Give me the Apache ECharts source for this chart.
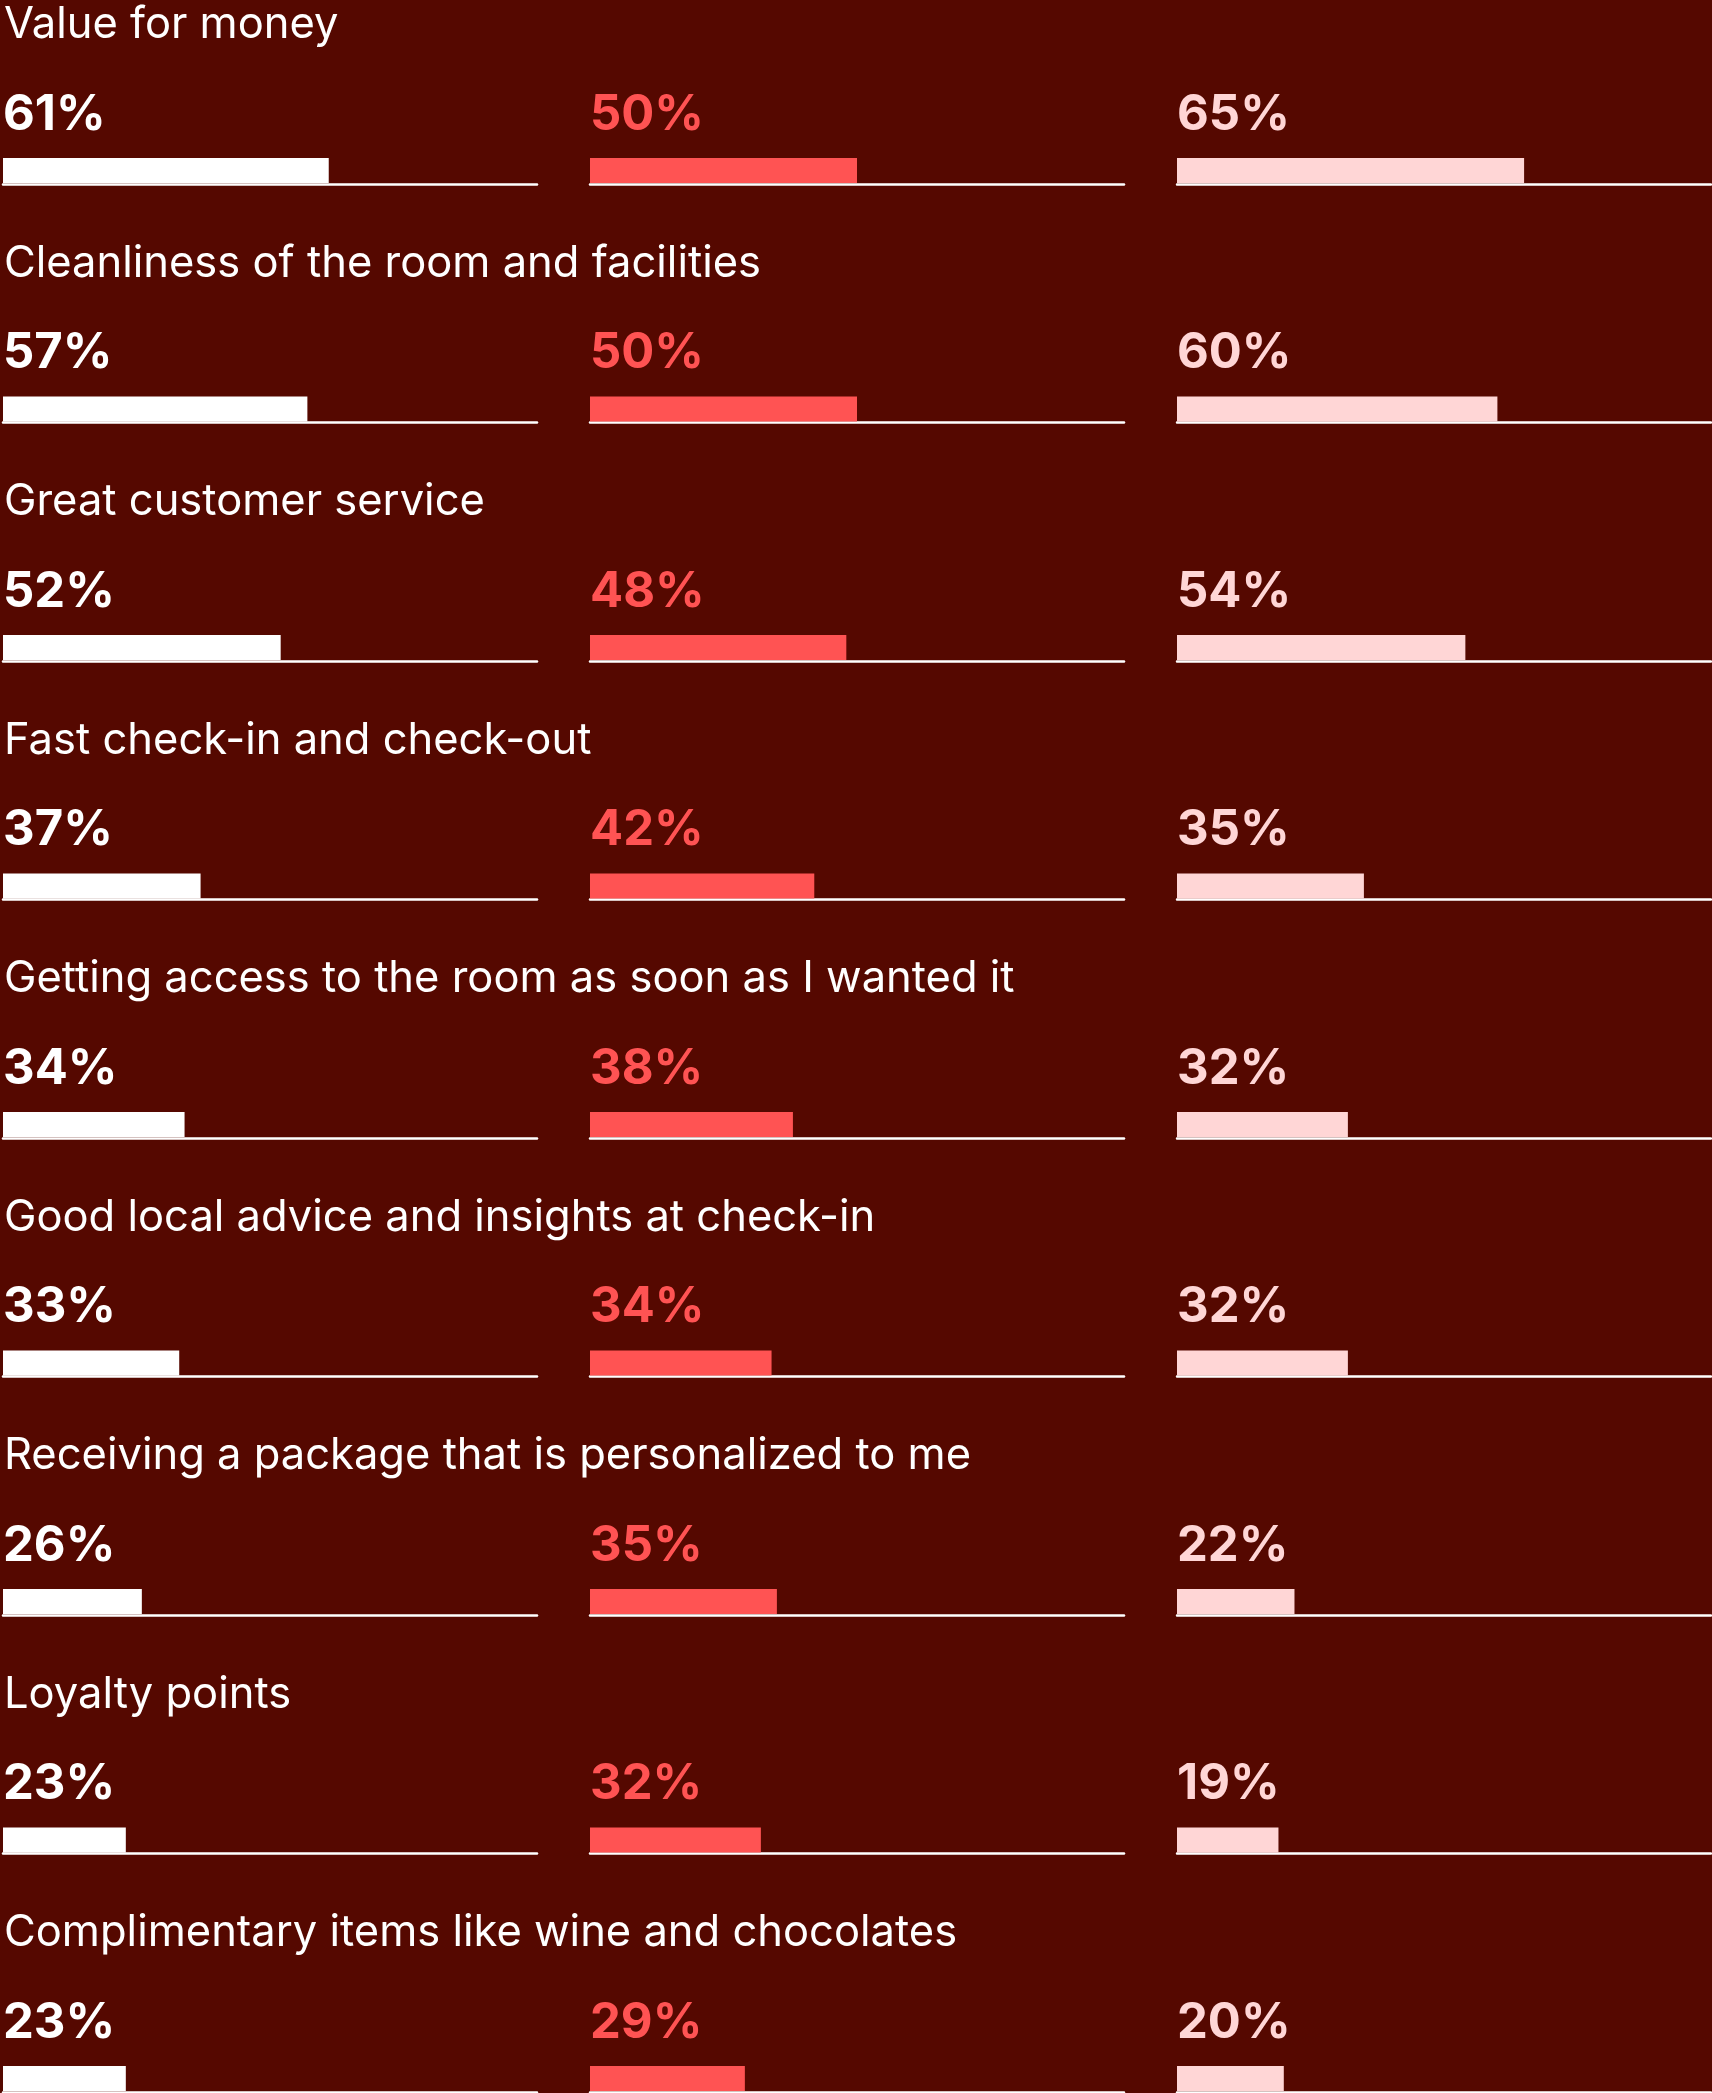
<!DOCTYPE html>
<html>
<head>
<meta charset="utf-8">
<script src="https://cdn.jsdelivr.net/npm/echarts@6/dist/echarts.min.js"></script>
<style>
  html, body { margin: 0; padding: 0; background: #550800; }
  #chart { width: 1712px; height: 2093px; }
</style>
</head>
<body>
<div id="chart"></div>
<script>
// Survey answers: share of respondents choosing each factor, per group
const categories = [
  'Value for money',
  'Cleanliness of the room and facilities',
  'Great customer service',
  'Fast check-in and check-out',
  'Getting access to the room as soon as I wanted it',
  'Good local advice and insights at check-in',
  'Receiving a package that is personalized to me',
  'Loyalty points',
  'Complimentary items like wine and chocolates'
];
const groupWhite = [61, 57, 52, 37, 34, 33, 26, 23, 23];
const groupRed   = [50, 50, 48, 42, 38, 34, 35, 32, 29];
const groupPink  = [65, 60, 54, 35, 32, 32, 22, 19, 20];

const groups = [groupWhite, groupRed, groupPink];
const groupColors = ['#ffffff', '#ff5353', '#ffd6d6'];

// layout
const BG = '#550800';
const colLeft = [3, 590, 1177];
const colWidth = 534;
const firstBottom = 183;
const rowStep = 238.5;
const barH = 25;
const TITLE_FONT = 'Inter, "Liberation Sans", sans-serif';
const VALUE_FONT = 'Inter, Roboto, "Liberation Sans", sans-serif';

const grid = [], xAxis = [], yAxis = [], series = [], graphic = [];

categories.forEach((cat, r) => {
  const bottom = firstBottom + r * rowStep;
  graphic.push({
    type: 'text',
    x: colLeft[0] + 1,
    y: bottom - 158,
    style: {
      text: cat,
      fill: '#ffffff',
      font: '400 43.5px ' + TITLE_FONT,
      verticalAlign: 'middle',
      align: 'left'
    }
  });
  groups.forEach((vals, c) => {
    const idx = grid.length;
    grid.push({ left: colLeft[c], top: bottom - barH, width: colWidth, height: barH });
    xAxis.push({
      gridIndex: idx, type: 'value', min: 0, max: 100,
      offset: 1,
      axisLine: { show: true, lineStyle: { color: '#ffffff', width: 2.5 } },
      axisTick: { show: false }, axisLabel: { show: false }, splitLine: { show: false }
    });
    yAxis.push({
      gridIndex: idx, type: 'category', data: [cat], show: false
    });
    series.push({
      type: 'bar',
      xAxisIndex: idx, yAxisIndex: idx,
      data: [vals[r]],
      barWidth: '100%',
      itemStyle: { color: groupColors[c] },
      silent: true,
      z: 3,
      label: {
        show: true,
        position: [0, -43],
        align: 'left',
        verticalAlign: 'middle',
        formatter: p => p.value + '%',
        color: groupColors[c],
        fontFamily: VALUE_FONT,
        fontWeight: 'bold',
        fontSize: 49
      }
    });
  });
});

const chart = echarts.init(document.getElementById('chart'), null, { renderer: 'canvas' });
chart.setOption({
  backgroundColor: BG,
  animation: false,
  grid, xAxis, yAxis, series, graphic
});
</script>
</body>
</html>
